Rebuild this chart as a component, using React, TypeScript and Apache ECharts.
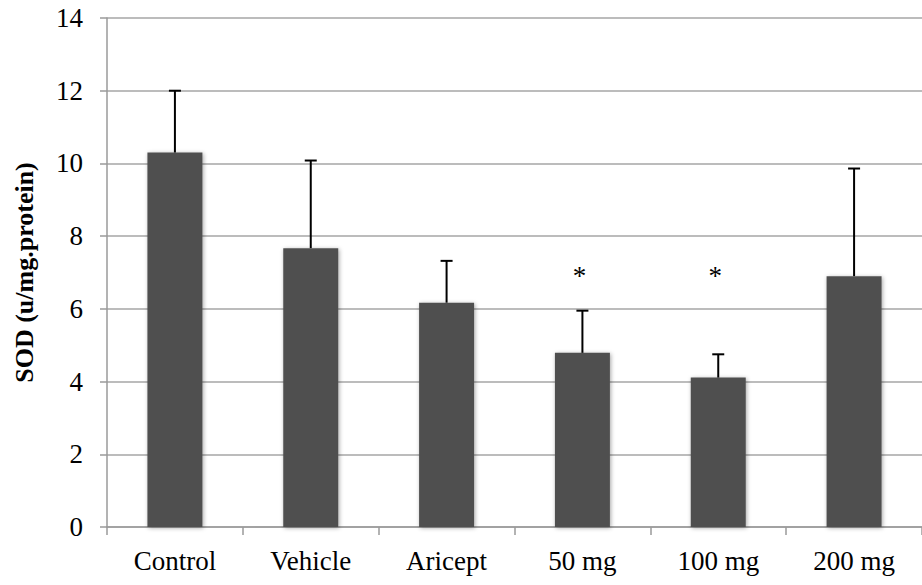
import React, { useEffect, useRef } from "react";
import * as echarts from "echarts";

const categories = ["Control", "Vehicle", "Aricept", "50 mg", "100 mg", "200 mg"];
const means = [10.3, 7.67, 6.17, 4.79, 4.11, 6.9];
const errorTops = [12.0, 10.08, 7.32, 5.95, 4.75, 9.86];
const significance = ["", "", "", "*", "*", ""];
const significanceY = [0, 0, 0, 7.0, 7.0, 0];
const yAxisTitle = "SOD (u/mg.protein)";

const FONT = "Liberation Serif";

export default function App() {
  const ref = useRef<HTMLDivElement>(null);
  useEffect(() => {
    if (!ref.current) return;
    const chart = echarts.init(ref.current, null, { renderer: "svg" });
    chart.setOption({
      animation: false,
      backgroundColor: "#ffffff",
      textStyle: { fontFamily: FONT },
      grid: { left: 107, top: 18, width: 823.5, height: 509, containLabel: false },
      xAxis: {
        type: "category",
        data: categories,
        axisLine: { lineStyle: { color: "#9a9a9a", width: 1.5 } },
        axisTick: { show: true, length: 8, alignWithLabel: false, lineStyle: { color: "#9a9a9a", width: 1.5 } },
        axisLabel: { color: "#000", fontFamily: FONT, fontSize: 27, margin: 20 },
        splitLine: { show: false },
      },
      yAxis: {
        type: "value",
        min: 0,
        max: 14,
        interval: 2,
        name: yAxisTitle,
        nameLocation: "middle",
        nameGap: 70,
        nameTextStyle: { color: "#000", fontFamily: FONT, fontSize: 26, fontWeight: "bold" },
        axisLine: { show: true, lineStyle: { color: "#9a9a9a", width: 1.5 } },
        axisTick: { show: true, length: 7, lineStyle: { color: "#9a9a9a", width: 1.5 } },
        axisLabel: { color: "#000", fontFamily: FONT, fontSize: 27, margin: 24 },
        splitLine: { show: true, lineStyle: { color: "#a6a6a6", width: 1.5 } },
      },
      series: [
        {
          type: "bar",
          data: means,
          barWidth: 55,
          itemStyle: {
            color: "#505050",
            shadowBlur: 4,
            shadowColor: "rgba(0,0,0,0.35)",
            shadowOffsetX: 1,
            shadowOffsetY: 1,
          },
          z: 2,
        },
        {
          type: "custom",
          data: categories.map((_, i) => [i, means[i], errorTops[i]]),
          renderItem: (params: any, api: any) => {
            const i = api.value(0);
            const base = api.coord([i, api.value(1)]);
            const top = api.coord([i, api.value(2)]);
            const half = 6;
            const style = { stroke: "#000", lineWidth: 2 };
            return {
              type: "group",
              children: [
                { type: "line", shape: { x1: base[0], y1: base[1], x2: top[0], y2: top[1] }, style },
                { type: "line", shape: { x1: top[0] - half, y1: top[1], x2: top[0] + half, y2: top[1] }, style },
              ],
            };
          },
          z: 3,
        },
        {
          type: "custom",
          data: categories.map((_, i) => [i, significanceY[i]]),
          renderItem: (params: any, api: any) => {
            const i = params.dataIndex;
            if (!significance[i]) return null;
            const p = api.coord([api.value(0), api.value(1)]);
            return {
              type: "text",
              x: p[0] - 3,
              y: p[1] + 3,
              style: {
                text: significance[i],
                fill: "#000",
                fontFamily: FONT,
                fontSize: 27,
                align: "center",
                verticalAlign: "middle",
              },
            };
          },
          z: 4,
        },
      ],
    });
    return () => chart.dispose();
  }, []);
  return <div ref={ref} style={{ width: 922, height: 585, position: "absolute", left: 0, top: 0 }} />;
}
